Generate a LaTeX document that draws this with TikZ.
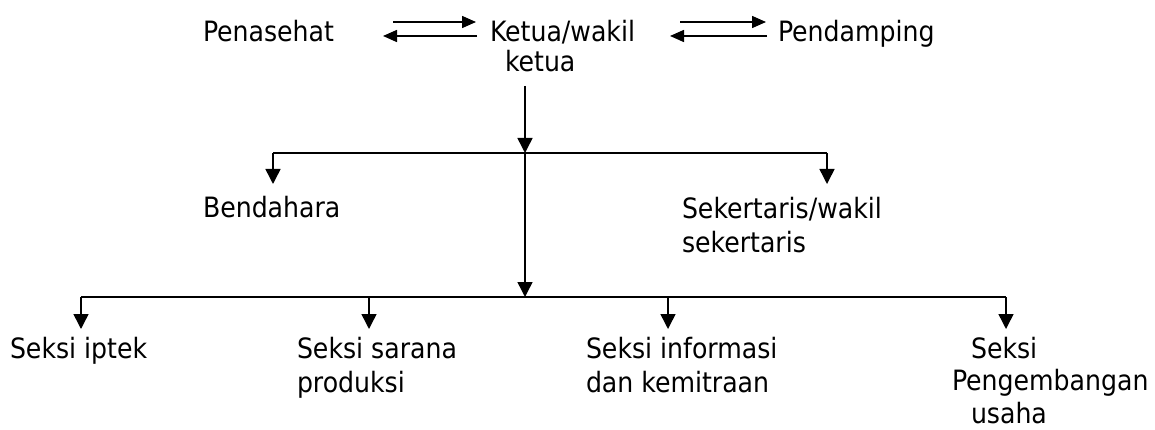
\documentclass[tikz,border=0pt]{standalone}
\usepackage{fontspec}
\setmainfont{DejaVu Sans Condensed}
\usetikzlibrary{arrows.meta}
\begin{document}
\begin{tikzpicture}[x=1pt,y=-1pt,
  lbl/.style={font=\fontsize{28}{34}\selectfont, inner sep=0pt, outer sep=0pt, anchor=base west, align=left},
  conn/.style={line width=1.5pt},
  arr/.style={conn,-{Triangle[width=15pt,length=15pt]}},
  harr/.style={conn,-{Triangle[width=12pt,length=14pt]}}]
\useasboundingbox (0,0) rectangle (1155,430);
% top row (multi-line nodes are placed at the baseline of their last line)
\node[lbl] (pen) at (203,42) {Penasehat};
\node[lbl,font=\fontsize{28}{30}\selectfont] (ket) at (490,72) {Ketua/wakil\\\hspace{15pt}ketua};
\node[lbl] (pend) at (778,42) {Pendamping};
% middle row
\node[lbl] (bend) at (203,218) {Bendahara};
\node[lbl] (sek) at (682,252) {Sekertaris/wakil\\sekertaris};
% bottom row
\node[lbl] (s1) at (10,358) {Seksi iptek};
\node[lbl] (s2) at (297,392) {Seksi sarana\\produksi};
\node[lbl] (s3) at (586,392) {Seksi informasi\\dan kemitraan};
\node[lbl,font=\fontsize{28}{32.5}\selectfont] (s4) at (952,423) {\hspace{19pt}Seksi\\Pengembangan\\\hspace{19pt}usaha};
% coordinates
\coordinate (pa1) at (393,22); \coordinate (pa2) at (476,22);
\coordinate (pb1) at (477,36); \coordinate (pb2) at (383,36);
\coordinate (qa1) at (680,22); \coordinate (qa2) at (766,22);
\coordinate (qb1) at (767,36); \coordinate (qb2) at (670,36);
\coordinate (k0) at (525,86);
\coordinate (h1) at (525,153);
\coordinate (h2) at (525,297);
\coordinate (bl) at (273,153); \coordinate (br) at (827,153);
\coordinate (bt) at (273,184); \coordinate (st) at (827,184);
\coordinate (c1) at (81,297); \coordinate (c2) at (369,297);
\coordinate (c3) at (668,297); \coordinate (c4) at (1006,297);
\coordinate (t1) at (81,329); \coordinate (t2) at (369,329);
\coordinate (t3) at (668,329); \coordinate (t4) at (1006,329);
% top arrows
\draw[harr] (pa1) -- (pa2);
\draw[harr] (pb1) -- (pb2);
\draw[harr] (qa1) -- (qa2);
\draw[harr] (qb1) -- (qb2);
% trunk
\draw[arr] (k0) -- (h1);
\draw[arr] (h1) -- (h2);
\draw[conn] (bl) -- (br);
\draw[arr] (bl) -- (bt);
\draw[arr] (br) -- (st);
\draw[conn] (c1) -- (c4);
\draw[arr] (c1) -- (t1);
\draw[arr] (c2) -- (t2);
\draw[arr] (c3) -- (t3);
\draw[arr] (c4) -- (t4);
\end{tikzpicture}
\end{document}
